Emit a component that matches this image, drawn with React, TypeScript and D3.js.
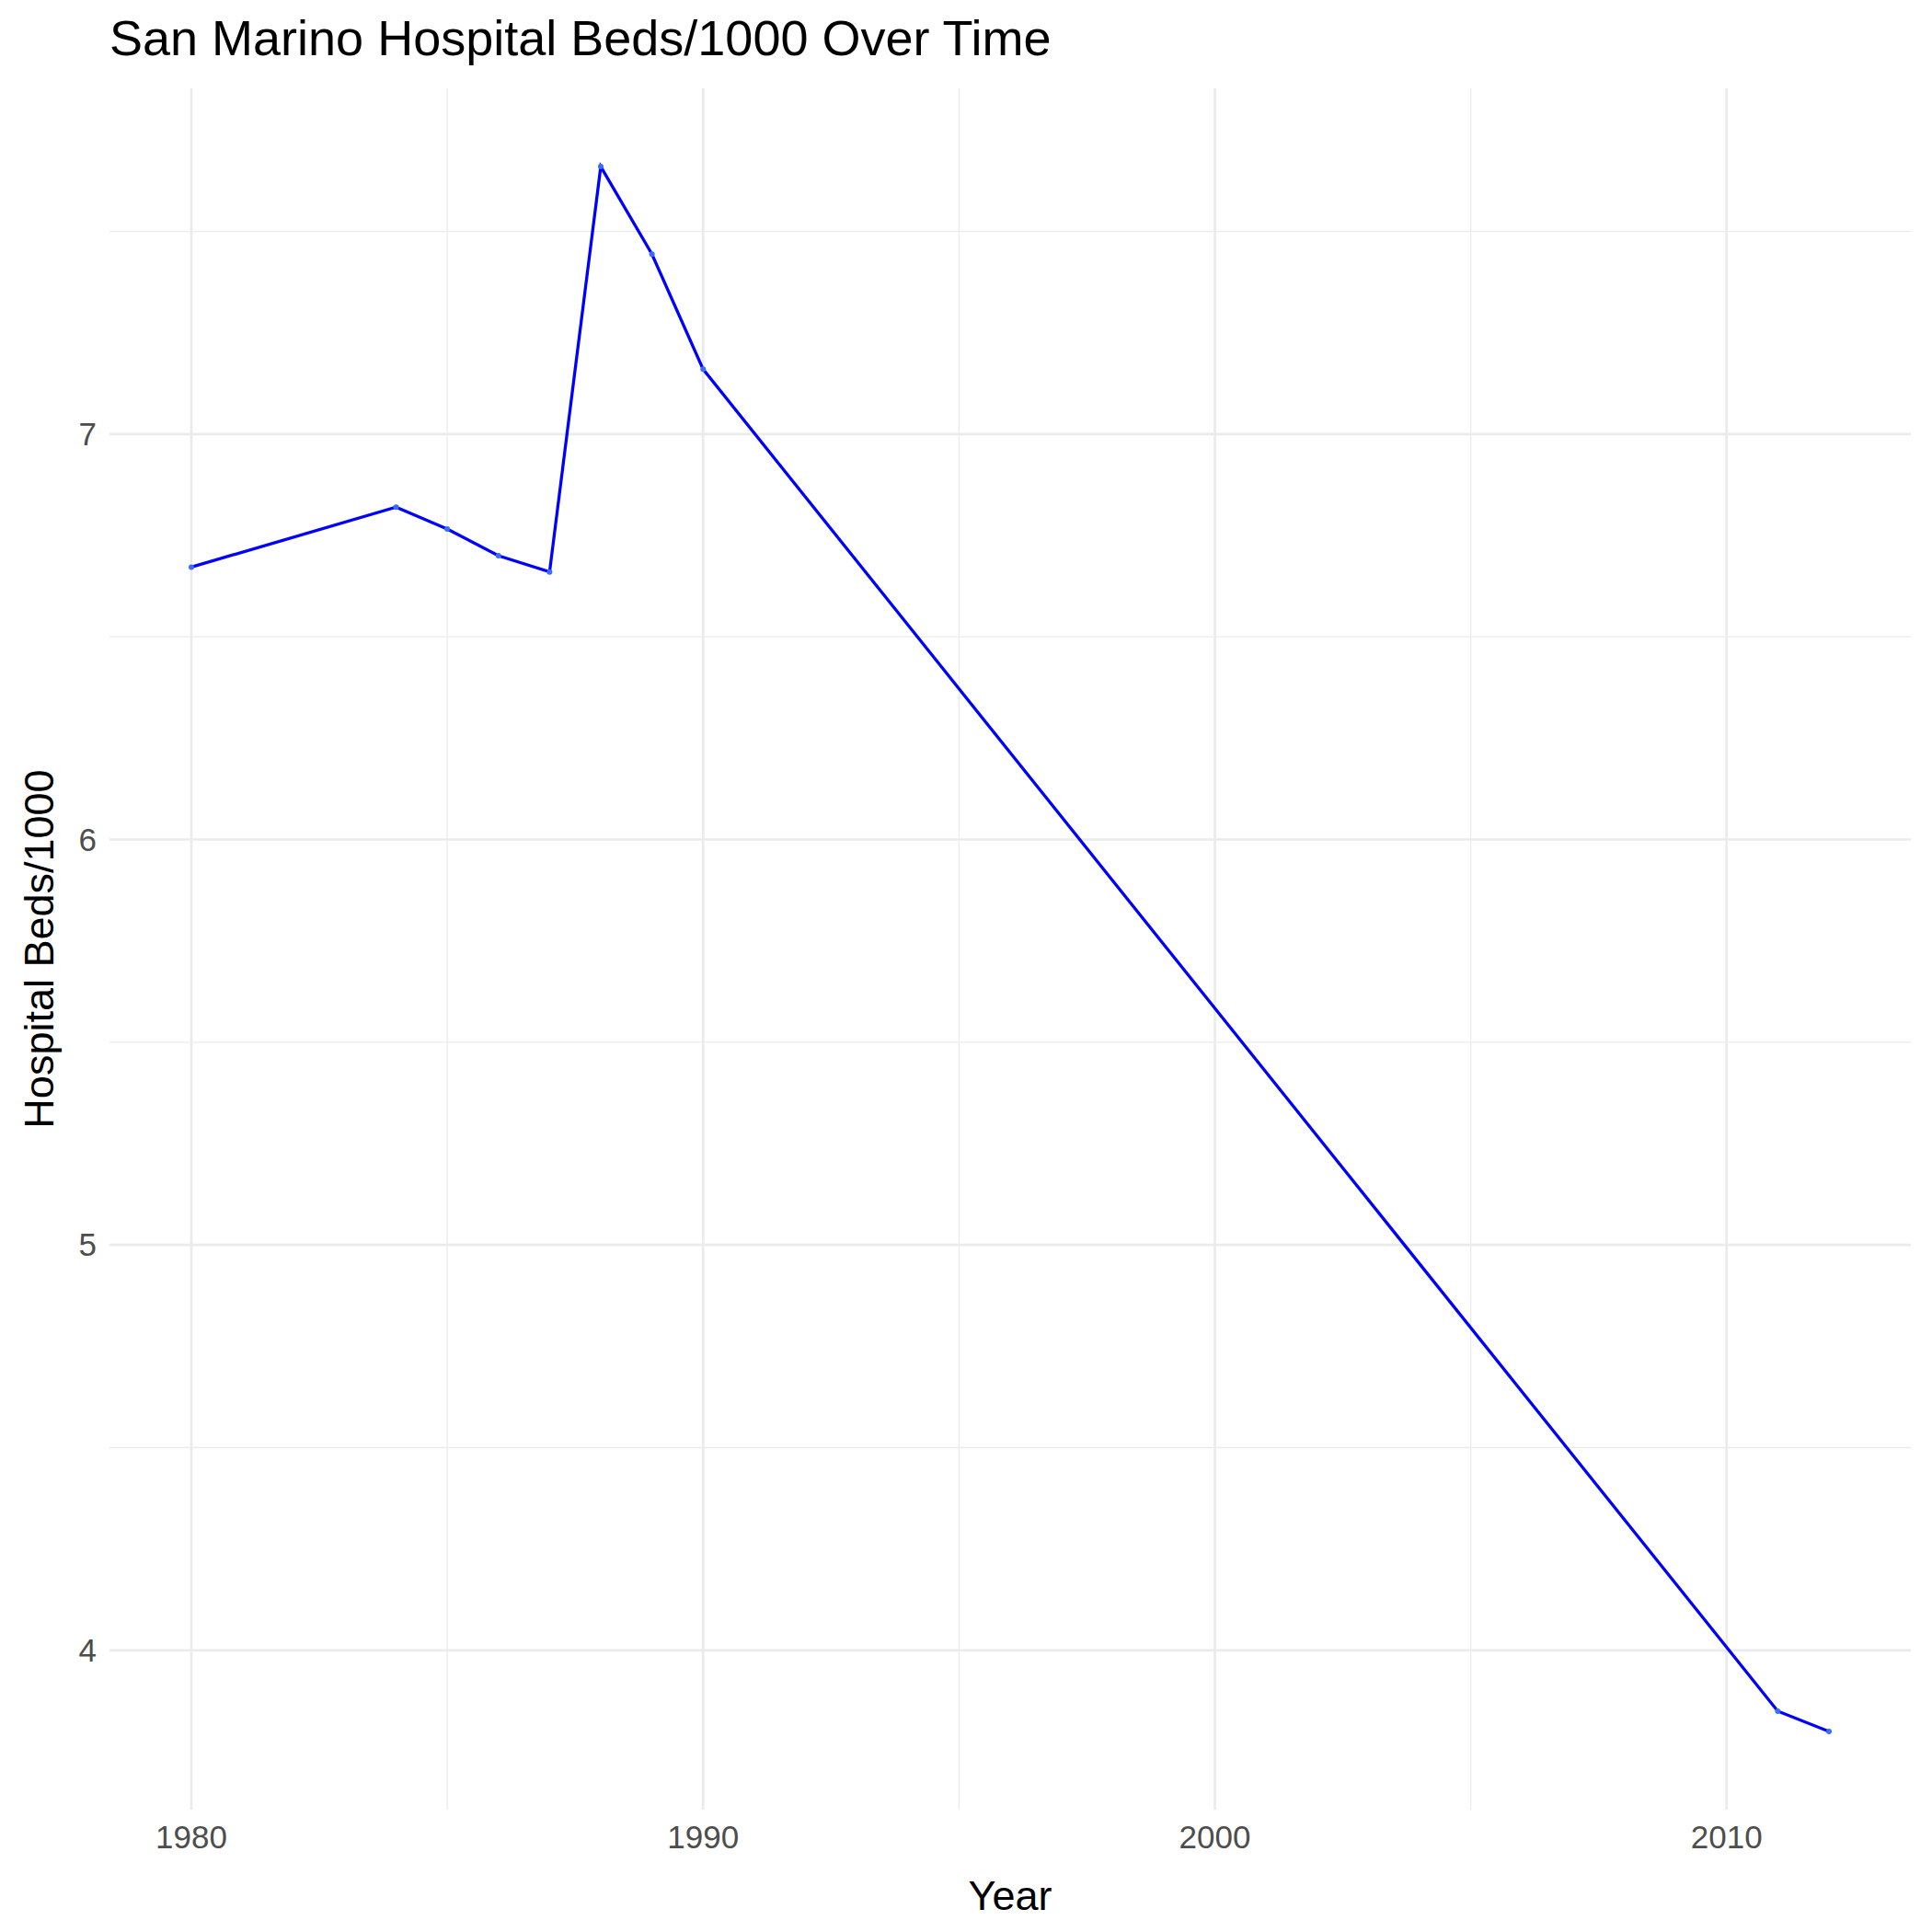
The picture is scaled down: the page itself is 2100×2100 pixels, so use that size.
import React, { useEffect, useRef } from 'react';
import * as d3 from 'd3';

const years = [1980, 1984, 1985, 1986, 1987, 1988, 1989, 1990, 2011, 2012];
const beds = [6.672, 6.82, 6.766, 6.70, 6.66, 7.66, 7.444, 7.16, 3.85, 3.80];
const xTicks = [1980, 1990, 2000, 2010];
const xMinor = [1985, 1995, 2005];
const yTicks = [4, 5, 6, 7];
const yMinor = [4.5, 5.5, 6.5, 7.5];

export default function App() {
  const svgRef = useRef<SVGSVGElement>(null);

  useEffect(() => {
    const W = 2100, H = 2100;
    const m = { left: 119, right: 23, top: 96, bottom: 133 };
    const svg = d3.select(svgRef.current);
    svg.selectAll('*').remove();
    svg.attr('width', W).attr('height', H).style('font-family', 'Arial, Liberation Sans, sans-serif');
    svg.append('rect').attr('width', W).attr('height', H).attr('fill', 'white');

    const [x0, x1] = d3.extent(years) as [number, number];
    const [y0, y1] = d3.extent(beds) as [number, number];
    const dx = (x1 - x0) * 0.05, dy = (y1 - y0) * 0.05;
    const x = d3.scaleLinear().domain([x0 - dx, x1 + dx]).range([m.left, W - m.right]);
    const y = d3.scaleLinear().domain([y0 - dy, y1 + dy]).range([H - m.bottom, m.top]);

    const g = svg.append('g');
    xMinor.forEach(v => g.append('line').attr('x1', x(v)).attr('x2', x(v)).attr('y1', m.top).attr('y2', H - m.bottom).attr('stroke', '#ebebeb').attr('stroke-width', 1.3));
    yMinor.forEach(v => g.append('line').attr('y1', y(v)).attr('y2', y(v)).attr('x1', m.left).attr('x2', W - m.right).attr('stroke', '#ebebeb').attr('stroke-width', 1.3));
    xTicks.forEach(v => g.append('line').attr('x1', x(v)).attr('x2', x(v)).attr('y1', m.top).attr('y2', H - m.bottom).attr('stroke', '#ebebeb').attr('stroke-width', 2.7));
    yTicks.forEach(v => g.append('line').attr('y1', y(v)).attr('y2', y(v)).attr('x1', m.left).attr('x2', W - m.right).attr('stroke', '#ebebeb').attr('stroke-width', 2.7));

    xTicks.forEach(v => g.append('text').attr('x', x(v)).attr('y', H - m.bottom + 42).attr('text-anchor', 'middle').attr('font-size', 35).attr('fill', '#4d4d4d').text(v));
    yTicks.forEach(v => g.append('text').attr('x', m.left - 14).attr('y', y(v) + 12).attr('text-anchor', 'end').attr('font-size', 35).attr('fill', '#4d4d4d').text(v));

    const line = d3.line<number>().x((_, i) => x(years[i])).y(d => y(d));
    g.append('path').datum(beds).attr('d', line).attr('fill', 'none').attr('stroke', '#0000ff').attr('stroke-width', 3.3);
    g.selectAll('circle.pt').data(beds).enter().append('circle')
      .attr('cx', (_, i) => x(years[i])).attr('cy', d => y(d)).attr('r', 3).attr('fill', '#3a6cff');

    svg.append('text').attr('x', m.left).attr('y', 60).attr('font-size', 54).attr('fill', 'black').text('San Marino Hospital Beds/1000 Over Time');
    svg.append('text').attr('x', (m.left + W - m.right) / 2).attr('y', H - 24).attr('text-anchor', 'middle').attr('font-size', 45).text('Year');
    svg.append('text').attr('transform', `translate(58, ${(m.top + H - m.bottom) / 2}) rotate(-90)`).attr('text-anchor', 'middle').attr('font-size', 45).text('Hospital Beds/1000');
  }, []);

  return <svg ref={svgRef} style={{ position: 'absolute', left: 0, top: 0 }}></svg>;
}
